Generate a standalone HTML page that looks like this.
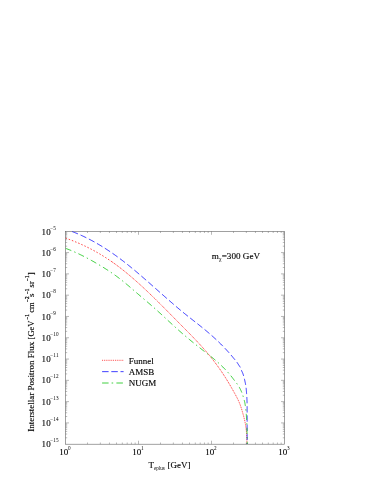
<!DOCTYPE html>
<html><head><meta charset="utf-8"><title>plot</title>
<style>
html,body{margin:0;padding:0;background:#fff;}
body{width:387px;height:501px;overflow:hidden;}
svg{display:block;opacity:0.999;}
text{font-family:"Liberation Serif",serif;fill:#000;stroke:#000;stroke-width:0.12px;} .s{stroke:none;}
</style></head>
<body>
<svg width="387" height="501" viewBox="0 0 387 501">
<rect width="387" height="501" fill="#fff"/>
<defs><filter id="b" x="0" y="0" width="387" height="501" filterUnits="userSpaceOnUse"><feGaussianBlur stdDeviation="0.4"/></filter><clipPath id="c"><rect x="65.5" y="231.3" width="219.0" height="212.89999999999998"/></clipPath></defs>
<g filter="url(#b)">
<g fill="none" stroke="#000" stroke-width="0.6" opacity="0.62">
<rect x="65.5" y="231.3" width="219.0" height="212.89999999999998"/>
<path d="M87.48,444.2 v-1.7 M87.48,231.3 v1.7 M100.33,444.2 v-1.7 M100.33,231.3 v1.7 M109.45,444.2 v-1.7 M109.45,231.3 v1.7 M116.52,444.2 v-1.7 M116.52,231.3 v1.7 M122.31,444.2 v-1.7 M122.31,231.3 v1.7 M127.19,444.2 v-1.7 M127.19,231.3 v1.7 M131.43,444.2 v-1.7 M131.43,231.3 v1.7 M135.16,444.2 v-1.7 M135.16,231.3 v1.7 M138.50,444.2 v-3.5 M138.50,231.3 v3.5 M160.48,444.2 v-1.7 M160.48,231.3 v1.7 M173.33,444.2 v-1.7 M173.33,231.3 v1.7 M182.45,444.2 v-1.7 M182.45,231.3 v1.7 M189.52,444.2 v-1.7 M189.52,231.3 v1.7 M195.31,444.2 v-1.7 M195.31,231.3 v1.7 M200.19,444.2 v-1.7 M200.19,231.3 v1.7 M204.43,444.2 v-1.7 M204.43,231.3 v1.7 M208.16,444.2 v-1.7 M208.16,231.3 v1.7 M211.50,444.2 v-3.5 M211.50,231.3 v3.5 M233.48,444.2 v-1.7 M233.48,231.3 v1.7 M246.33,444.2 v-1.7 M246.33,231.3 v1.7 M255.45,444.2 v-1.7 M255.45,231.3 v1.7 M262.52,444.2 v-1.7 M262.52,231.3 v1.7 M268.31,444.2 v-1.7 M268.31,231.3 v1.7 M273.19,444.2 v-1.7 M273.19,231.3 v1.7 M277.43,444.2 v-1.7 M277.43,231.3 v1.7 M281.16,444.2 v-1.7 M281.16,231.3 v1.7 M65.5,437.79 h1.7 M284.5,437.79 h-1.7 M65.5,434.04 h1.7 M284.5,434.04 h-1.7 M65.5,431.38 h1.7 M284.5,431.38 h-1.7 M65.5,429.32 h1.7 M284.5,429.32 h-1.7 M65.5,427.63 h1.7 M284.5,427.63 h-1.7 M65.5,426.21 h1.7 M284.5,426.21 h-1.7 M65.5,424.97 h1.7 M284.5,424.97 h-1.7 M65.5,423.88 h1.7 M284.5,423.88 h-1.7 M65.5,422.91 h3.5 M284.5,422.91 h-3.5 M65.5,416.50 h1.7 M284.5,416.50 h-1.7 M65.5,412.75 h1.7 M284.5,412.75 h-1.7 M65.5,410.09 h1.7 M284.5,410.09 h-1.7 M65.5,408.03 h1.7 M284.5,408.03 h-1.7 M65.5,406.34 h1.7 M284.5,406.34 h-1.7 M65.5,404.92 h1.7 M284.5,404.92 h-1.7 M65.5,403.68 h1.7 M284.5,403.68 h-1.7 M65.5,402.59 h1.7 M284.5,402.59 h-1.7 M65.5,401.62 h3.5 M284.5,401.62 h-3.5 M65.5,395.21 h1.7 M284.5,395.21 h-1.7 M65.5,391.46 h1.7 M284.5,391.46 h-1.7 M65.5,388.80 h1.7 M284.5,388.80 h-1.7 M65.5,386.74 h1.7 M284.5,386.74 h-1.7 M65.5,385.05 h1.7 M284.5,385.05 h-1.7 M65.5,383.63 h1.7 M284.5,383.63 h-1.7 M65.5,382.39 h1.7 M284.5,382.39 h-1.7 M65.5,381.30 h1.7 M284.5,381.30 h-1.7 M65.5,380.33 h3.5 M284.5,380.33 h-3.5 M65.5,373.92 h1.7 M284.5,373.92 h-1.7 M65.5,370.17 h1.7 M284.5,370.17 h-1.7 M65.5,367.51 h1.7 M284.5,367.51 h-1.7 M65.5,365.45 h1.7 M284.5,365.45 h-1.7 M65.5,363.76 h1.7 M284.5,363.76 h-1.7 M65.5,362.34 h1.7 M284.5,362.34 h-1.7 M65.5,361.10 h1.7 M284.5,361.10 h-1.7 M65.5,360.01 h1.7 M284.5,360.01 h-1.7 M65.5,359.04 h3.5 M284.5,359.04 h-3.5 M65.5,352.63 h1.7 M284.5,352.63 h-1.7 M65.5,348.88 h1.7 M284.5,348.88 h-1.7 M65.5,346.22 h1.7 M284.5,346.22 h-1.7 M65.5,344.16 h1.7 M284.5,344.16 h-1.7 M65.5,342.47 h1.7 M284.5,342.47 h-1.7 M65.5,341.05 h1.7 M284.5,341.05 h-1.7 M65.5,339.81 h1.7 M284.5,339.81 h-1.7 M65.5,338.72 h1.7 M284.5,338.72 h-1.7 M65.5,337.75 h3.5 M284.5,337.75 h-3.5 M65.5,331.34 h1.7 M284.5,331.34 h-1.7 M65.5,327.59 h1.7 M284.5,327.59 h-1.7 M65.5,324.93 h1.7 M284.5,324.93 h-1.7 M65.5,322.87 h1.7 M284.5,322.87 h-1.7 M65.5,321.18 h1.7 M284.5,321.18 h-1.7 M65.5,319.76 h1.7 M284.5,319.76 h-1.7 M65.5,318.52 h1.7 M284.5,318.52 h-1.7 M65.5,317.43 h1.7 M284.5,317.43 h-1.7 M65.5,316.46 h3.5 M284.5,316.46 h-3.5 M65.5,310.05 h1.7 M284.5,310.05 h-1.7 M65.5,306.30 h1.7 M284.5,306.30 h-1.7 M65.5,303.64 h1.7 M284.5,303.64 h-1.7 M65.5,301.58 h1.7 M284.5,301.58 h-1.7 M65.5,299.89 h1.7 M284.5,299.89 h-1.7 M65.5,298.47 h1.7 M284.5,298.47 h-1.7 M65.5,297.23 h1.7 M284.5,297.23 h-1.7 M65.5,296.14 h1.7 M284.5,296.14 h-1.7 M65.5,295.17 h3.5 M284.5,295.17 h-3.5 M65.5,288.76 h1.7 M284.5,288.76 h-1.7 M65.5,285.01 h1.7 M284.5,285.01 h-1.7 M65.5,282.35 h1.7 M284.5,282.35 h-1.7 M65.5,280.29 h1.7 M284.5,280.29 h-1.7 M65.5,278.60 h1.7 M284.5,278.60 h-1.7 M65.5,277.18 h1.7 M284.5,277.18 h-1.7 M65.5,275.94 h1.7 M284.5,275.94 h-1.7 M65.5,274.85 h1.7 M284.5,274.85 h-1.7 M65.5,273.88 h3.5 M284.5,273.88 h-3.5 M65.5,267.47 h1.7 M284.5,267.47 h-1.7 M65.5,263.72 h1.7 M284.5,263.72 h-1.7 M65.5,261.06 h1.7 M284.5,261.06 h-1.7 M65.5,259.00 h1.7 M284.5,259.00 h-1.7 M65.5,257.31 h1.7 M284.5,257.31 h-1.7 M65.5,255.89 h1.7 M284.5,255.89 h-1.7 M65.5,254.65 h1.7 M284.5,254.65 h-1.7 M65.5,253.56 h1.7 M284.5,253.56 h-1.7 M65.5,252.59 h3.5 M284.5,252.59 h-3.5 M65.5,246.18 h1.7 M284.5,246.18 h-1.7 M65.5,242.43 h1.7 M284.5,242.43 h-1.7 M65.5,239.77 h1.7 M284.5,239.77 h-1.7 M65.5,237.71 h1.7 M284.5,237.71 h-1.7 M65.5,236.02 h1.7 M284.5,236.02 h-1.7 M65.5,234.60 h1.7 M284.5,234.60 h-1.7 M65.5,233.36 h1.7 M284.5,233.36 h-1.7 M65.5,232.27 h1.7 M284.5,232.27 h-1.7" stroke-width="0.45"/>
</g>
<g fill="none" stroke-width="0.8" clip-path="url(#c)">
<path d="M65.50,238.08 L66.34,238.38 L67.17,238.67 L68.01,238.97 L68.85,239.28 L69.68,239.59 L70.52,239.90 L71.36,240.22 L72.19,240.54 L73.03,240.87 L73.87,241.20 L74.70,241.54 L75.54,241.88 L76.38,242.23 L77.21,242.58 L78.05,242.94 L78.89,243.30 L79.72,243.66 L80.56,244.03 L81.40,244.41 L82.23,244.79 L83.07,245.18 L83.91,245.57 L84.74,245.96 L85.58,246.36 L86.42,246.77 L87.25,247.18 L88.09,247.60 L88.93,248.02 L89.76,248.44 L90.60,248.88 L91.44,249.31 L92.27,249.76 L93.11,250.20 L93.95,250.66 L94.78,251.12 L95.62,251.58 L96.46,252.05 L97.29,252.53 L98.13,253.01 L98.97,253.50 L99.80,253.99 L100.64,254.49 L101.48,254.99 L102.31,255.50 L103.15,256.02 L103.99,256.54 L104.82,257.07 L105.66,257.60 L106.50,258.14 L107.33,258.69 L108.17,259.24 L109.01,259.80 L109.84,260.37 L110.68,260.94 L111.52,261.51 L112.35,262.10" stroke="#ff0000" stroke-dasharray="1.5 1.9"/><path d="M112.35,262.10 L113.19,262.69 L114.03,263.28 L114.86,263.88 L115.70,264.49 L116.54,265.11 L117.37,265.73 L118.21,266.35 L119.05,266.99 L119.88,267.63 L120.72,268.27 L121.56,268.92 L122.39,269.58 L123.23,270.24 L124.07,270.91 L124.90,271.59 L125.74,272.26 L126.58,272.95 L127.41,273.64 L128.25,274.33 L129.09,275.03 L129.92,275.74 L130.76,276.45 L131.60,277.16 L132.43,277.88 L133.27,278.61 L134.11,279.34 L134.94,280.07 L135.78,280.81 L136.62,281.55 L137.45,282.30 L138.29,283.05 L139.13,283.81 L139.96,284.57 L140.80,285.33 L141.64,286.10 L142.47,286.87 L143.31,287.64 L144.15,288.42 L144.98,289.20 L145.82,289.99 L146.66,290.78 L147.49,291.57 L148.33,292.37 L149.17,293.17 L150.01,293.97 L150.84,294.77 L151.68,295.58 L152.52,296.39 L153.35,297.21 L154.19,298.02 L155.03,298.84 L155.86,299.66 L156.70,300.49 L157.54,301.31 L158.37,302.14 L159.21,302.97 L160.05,303.80 L160.88,304.64 L161.72,305.47 L162.56,306.31 L163.39,307.15 L164.23,307.99 L165.07,308.83 L165.90,309.68 L166.74,310.52 L167.58,311.36 L168.41,312.21 L169.25,313.06 L170.09,313.90 L170.92,314.75 L171.76,315.60 L172.60,316.45 L173.43,317.30 L174.27,318.15 L175.11,319.00 L175.94,319.84 L176.78,320.69 L177.62,321.54 L178.45,322.39 L179.29,323.24 L180.13,324.08 L180.96,324.93 L181.80,325.78 L182.64,326.62 L183.47,327.46 L184.31,328.31 L185.15,329.15 L185.98,330.00 L186.82,330.85 L187.66,331.70 L188.49,332.55 L189.33,333.40 L190.17,334.26 L191.00,335.11 L191.84,335.98 L192.68,336.84 L193.51,337.71 L194.35,338.58 L195.19,339.46 L196.02,340.34 L196.86,341.23 L197.70,342.13 L198.53,343.03 L199.37,343.93 L200.21,344.84 L201.04,345.76 L201.88,346.69 L202.72,347.63 L203.55,348.57 L204.39,349.52 L205.23,350.48 L206.06,351.45 L206.90,352.43 L207.74,353.42 L208.57,354.42 L209.41,355.44 L210.25,356.46 L211.08,357.50 L211.92,358.54 L212.76,359.61 L213.59,360.68 L214.43,361.77 L215.27,362.87 L216.10,363.99 L216.94,365.13 L217.78,366.28 L218.61,367.44 L219.45,368.62 L220.29,369.82 L221.12,371.04 L221.96,372.27 L222.80,373.53 L223.63,374.80 L224.47,376.09 L225.31,377.40 L226.14,378.73 L226.98,380.08 L227.82,381.45 L228.65,382.85 L229.49,384.26 L230.33,385.70 L231.16,387.16 L232.00,388.64 L232.21,388.99 L232.41,389.34 L232.61,389.69 L232.82,390.04 L233.02,390.38 L233.22,390.73 L233.41,391.08 L233.61,391.43 L233.80,391.78 L233.99,392.12 L234.18,392.47 L234.37,392.82 L234.56,393.17 L234.75,393.52 L234.94,393.87 L235.13,394.21 L235.32,394.56 L235.51,394.91 L235.70,395.26 L235.89,395.61 L236.08,395.95 L236.26,396.30 L236.45,396.65 L236.63,397.00 L236.82,397.35 L237.00,397.70 L237.18,398.04 L237.35,398.39 L237.53,398.74 L237.70,399.09 L237.87,399.44 L238.04,399.78 L238.21,400.13 L238.37,400.48 L238.53,400.83 L238.69,401.18 L238.84,401.53 L238.99,401.87 L239.14,402.22 L239.29,402.57 L239.43,402.92 L239.57,403.27 L239.70,403.61 L239.83,403.96 L239.97,404.31 L240.09,404.66 L240.22,405.01 L240.35,405.35 L240.47,405.70 L240.60,406.05 L240.72,406.40 L240.84,406.75 L240.96,407.10 L241.07,407.44 L241.19,407.79 L241.30,408.14 L241.41,408.49 L241.52,408.84 L241.63,409.18 L241.74,409.53 L241.85,409.88 L241.95,410.23 L242.06,410.58 L242.16,410.93 L242.26,411.27 L242.36,411.62 L242.46,411.97 L242.56,412.32 L242.66,412.67 L242.76,413.01 L242.85,413.36 L242.95,413.71 L243.04,414.06 L243.14,414.41 L243.23,414.76 L243.32,415.10 L243.42,415.45 L243.51,415.80 L243.60,416.15 L243.69,416.50 L243.79,416.84 L243.88,417.19 L243.97,417.54 L244.06,417.89 L244.14,418.24 L244.23,418.58 L244.32,418.93 L244.40,419.28 L244.48,419.63 L244.57,419.98 L244.65,420.33 L244.72,420.67 L244.80,421.02 L244.88,421.37 L244.95,421.72 L245.02,422.07 L245.09,422.41 L245.16,422.76 L245.23,423.11 L245.29,423.46 L245.35,423.81 L245.41,424.16 L245.47,424.50 L245.52,424.85 L245.58,425.20 L245.63,425.55 L245.68,425.90 L245.74,426.24 L245.79,426.59 L245.84,426.94 L245.89,427.29 L245.94,427.64 L245.99,427.98 L246.04,428.33 L246.09,428.68 L246.13,429.03 L246.18,429.38 L246.22,429.73 L246.26,430.07 L246.30,430.42 L246.34,430.77 L246.38,431.12 L246.41,431.47 L246.45,431.81 L246.48,432.16 L246.50,432.51 L246.53,432.86 L246.56,433.21 L246.58,433.56 L246.60,433.90 L246.61,434.25 L246.63,434.60 L246.65,434.95 L246.66,435.30 L246.68,435.64 L246.69,435.99 L246.71,436.34 L246.72,436.69 L246.74,437.04 L246.75,437.39 L246.76,437.73 L246.78,438.08 L246.79,438.43 L246.80,438.78 L246.81,439.13 L246.83,439.47 L246.84,439.82 L246.85,440.17 L246.85,440.52 L246.86,440.87 L246.87,441.21 L246.88,441.56 L246.88,441.91 L246.89,442.26 L246.89,442.61 L246.90,442.96 L246.90,443.30 L246.90,443.65 L246.90,444.00" stroke="#ff0000" stroke-dasharray="1.1 0.8"/>
<path d="M72.10,231.53 L72.90,231.84 L73.71,232.15 L74.51,232.47 L75.31,232.79 L76.12,233.12 L76.92,233.45 L77.72,233.79 L78.53,234.14 L79.33,234.49 L80.14,234.84 L80.94,235.20 L81.74,235.57 L82.55,235.94 L83.35,236.31 L84.15,236.69 L84.96,237.08 L85.76,237.47 L86.56,237.86 L87.37,238.27 L88.17,238.67 L88.97,239.08 L89.78,239.50 L90.58,239.92 L91.38,240.35 L92.19,240.78 L92.99,241.21 L93.79,241.66 L94.60,242.10 L95.40,242.55 L96.21,243.01 L97.01,243.47 L97.81,243.94 L98.62,244.41 L99.42,244.88 L100.22,245.36 L101.03,245.85 L101.83,246.34 L102.63,246.84 L103.44,247.34 L104.24,247.84 L105.04,248.35 L105.85,248.87 L106.65,249.39 L107.45,249.91 L108.26,250.44 L109.06,250.97 L109.87,251.51 L110.67,252.06 L111.47,252.60 L112.28,253.16 L113.08,253.71 L113.88,254.28 L114.69,254.84 L115.49,255.42 L116.29,255.99 L117.10,256.57 L117.90,257.16 L118.70,257.75 L119.51,258.34 L120.31,258.94 L121.11,259.55 L121.92,260.16 L122.72,260.77 L123.53,261.39 L124.33,262.01 L125.13,262.64 L125.94,263.27 L126.74,263.90 L127.54,264.54 L128.35,265.19 L129.15,265.83 L129.95,266.48 L130.76,267.14 L131.56,267.80 L132.36,268.46 L133.17,269.12 L133.97,269.79 L134.77,270.46 L135.58,271.13 L136.38,271.81 L137.18,272.49 L137.99,273.17 L138.79,273.85 L139.60,274.54 L140.40,275.23 L141.20,275.92 L142.01,276.61 L142.81,277.31 L143.61,278.00 L144.42,278.70 L145.22,279.40 L146.02,280.10 L146.83,280.81 L147.63,281.51 L148.43,282.22 L149.24,282.92 L150.04,283.63 L150.84,284.34 L151.65,285.05 L152.45,285.76 L153.26,286.47 L154.06,287.18 L154.86,287.89 L155.67,288.60 L156.47,289.31 L157.27,290.03 L158.08,290.74 L158.88,291.45 L159.68,292.16 L160.49,292.87 L161.29,293.58 L162.09,294.29 L162.90,295.00 L163.70,295.70 L164.50,296.41 L165.31,297.12 L166.11,297.82 L166.92,298.53 L167.72,299.23 L168.52,299.93 L169.33,300.63 L170.13,301.33 L170.93,302.03 L171.74,302.73 L172.54,303.42 L173.34,304.12 L174.15,304.81 L174.95,305.50 L175.75,306.20 L176.56,306.88 L177.36,307.57 L178.16,308.25 L178.97,308.93 L179.77,309.61 L180.57,310.28 L181.38,310.95 L182.18,311.61 L182.99,312.27 L183.79,312.92 L184.59,313.58 L185.40,314.22 L186.20,314.87 L187.00,315.51 L187.81,316.15 L188.61,316.78 L189.41,317.42 L190.22,318.05 L191.02,318.68 L191.82,319.31 L192.63,319.94 L193.43,320.57 L194.23,321.20 L195.04,321.83 L195.84,322.47 L196.65,323.10 L197.45,323.73 L198.25,324.37 L199.06,325.01 L199.86,325.65 L200.66,326.29 L201.47,326.94 L202.27,327.58 L203.07,328.24 L203.88,328.89 L204.68,329.55 L205.48,330.22 L206.29,330.89 L207.09,331.57 L207.89,332.24 L208.70,332.93 L209.50,333.62 L210.31,334.32 L211.11,335.02 L211.91,335.73 L212.72,336.45 L213.52,337.17 L214.32,337.90 L215.13,338.63 L215.93,339.38 L216.73,340.13 L217.54,340.89 L218.34,341.66 L219.14,342.43 L219.95,343.22 L220.75,344.01 L221.55,344.81 L222.36,345.63 L223.16,346.45 L223.96,347.28 L224.77,348.12 L225.57,348.97 L226.38,349.84 L227.18,350.71 L227.98,351.59 L228.79,352.49 L229.59,353.39 L230.39,354.31 L231.20,355.24 L232.00,356.19 L232.44,356.74 L232.89,357.29 L233.34,357.84 L233.80,358.40 L234.26,358.95 L234.74,359.50 L235.22,360.05 L235.69,360.60 L236.14,361.16 L236.55,361.71 L236.94,362.26 L237.31,362.81 L237.67,363.37 L238.03,363.92 L238.38,364.47 L238.75,365.02 L239.12,365.58 L239.50,366.13 L239.86,366.68 L240.20,367.23 L240.50,367.78 L240.75,368.34 L240.96,368.89 L241.15,369.44 L241.35,369.99 L241.56,370.55 L241.79,371.10 L242.03,371.65 L242.27,372.20 L242.52,372.75 L242.75,373.31 L242.97,373.86 L243.17,374.41 L243.35,374.96 L243.52,375.52 L243.69,376.07 L243.84,376.62 L243.99,377.17 L244.14,377.73 L244.27,378.28 L244.40,378.83 L244.53,379.38 L244.65,379.93 L244.77,380.49 L244.89,381.04 L245.01,381.59 L245.13,382.14 L245.25,382.70 L245.36,383.25 L245.47,383.80 L245.57,384.35 L245.68,384.91 L245.77,385.46 L245.86,386.01 L245.95,386.56 L246.02,387.11 L246.09,387.67 L246.15,388.22 L246.21,388.77 L246.25,389.32 L246.30,389.88 L246.35,390.43 L246.40,390.98 L246.44,391.53 L246.49,392.09 L246.53,392.64 L246.57,393.19 L246.61,393.74 L246.65,394.29 L246.69,394.85 L246.73,395.40 L246.76,395.95 L246.80,396.50 L246.83,397.06 L246.86,397.61 L246.89,398.16 L246.92,398.71 L246.95,399.26 L246.97,399.82 L246.99,400.37 L247.01,400.92 L247.03,401.47 L247.05,402.03 L247.06,402.58 L247.07,403.13 L247.09,403.68 L247.09,404.24 L247.10,404.79 L247.10,405.34 L247.11,405.89 L247.11,406.44 L247.11,407.00 L247.11,407.55 L247.12,408.10 L247.12,408.65 L247.12,409.21 L247.13,409.76 L247.13,410.31 L247.13,410.86 L247.13,411.42 L247.13,411.97 L247.14,412.52 L247.14,413.07 L247.14,413.62 L247.14,414.18 L247.14,414.73 L247.14,415.28 L247.15,415.83 L247.15,416.39 L247.15,416.94 L247.15,417.49 L247.15,418.04 L247.15,418.59 L247.15,419.15 L247.15,419.70 L247.15,420.25 L247.15,420.80 L247.15,421.36 L247.15,421.91 L247.15,422.46 L247.15,423.01 L247.15,423.57 L247.15,424.12 L247.15,424.67 L247.15,425.22 L247.15,425.77 L247.15,426.33 L247.15,426.88 L247.15,427.43 L247.15,427.98 L247.15,428.54 L247.15,429.09 L247.15,429.64 L247.15,430.19 L247.15,430.75 L247.15,431.30 L247.15,431.85 L247.15,432.40 L247.15,432.95 L247.15,433.51 L247.15,434.06 L247.15,434.61 L247.15,435.16 L247.15,435.72 L247.15,436.27 L247.15,436.82 L247.15,437.37 L247.15,437.92 L247.15,438.48 L247.15,439.03 L247.15,439.58 L247.15,440.13 L247.15,440.69 L247.15,441.24 L247.15,441.79 L247.15,442.34 L247.15,442.90 L247.15,443.45 L247.15,444.00" stroke="#0000ff" stroke-dasharray="6.3 2.9"/>
<path d="M65.50,248.31 L66.34,248.62 L67.17,248.93 L68.01,249.26 L68.85,249.58 L69.68,249.92 L70.52,250.26 L71.36,250.60 L72.19,250.95 L73.03,251.31 L73.87,251.67 L74.70,252.04 L75.54,252.41 L76.38,252.79 L77.21,253.17 L78.05,253.56 L78.89,253.96 L79.72,254.36 L80.56,254.76 L81.40,255.17 L82.23,255.59 L83.07,256.00 L83.91,256.43 L84.74,256.86 L85.58,257.29 L86.42,257.73 L87.25,258.17 L88.09,258.62 L88.93,259.07 L89.76,259.52 L90.60,259.98 L91.44,260.44 L92.27,260.91 L93.11,261.38 L93.95,261.85 L94.78,262.33 L95.62,262.81 L96.46,263.30 L97.29,263.79 L98.13,264.28 L98.97,264.77 L99.80,265.27 L100.64,265.78 L101.48,266.28 L102.31,266.79 L103.15,267.31 L103.99,267.83 L104.82,268.35 L105.66,268.88 L106.50,269.41 L107.33,269.95 L108.17,270.49 L109.01,271.04 L109.84,271.60 L110.68,272.16 L111.52,272.73 L112.35,273.30 L113.19,273.88 L114.03,274.47 L114.86,275.07 L115.70,275.67 L116.54,276.28 L117.37,276.90 L118.21,277.52 L119.05,278.16 L119.88,278.80 L120.72,279.45 L121.56,280.11 L122.39,280.78 L123.23,281.45 L124.07,282.13 L124.90,282.82 L125.74,283.51 L126.58,284.21 L127.41,284.92 L128.25,285.62 L129.09,286.33 L129.92,287.05 L130.76,287.77 L131.60,288.49 L132.43,289.21 L133.27,289.93 L134.11,290.65 L134.94,291.38 L135.78,292.10 L136.62,292.82 L137.45,293.54 L138.29,294.26 L139.13,294.98 L139.96,295.70 L140.80,296.41 L141.64,297.12 L142.47,297.84 L143.31,298.55 L144.15,299.26 L144.98,299.97 L145.82,300.68 L146.66,301.40 L147.49,302.11 L148.33,302.83 L149.17,303.55 L150.01,304.27 L150.84,304.99 L151.68,305.72 L152.52,306.45 L153.35,307.19 L154.19,307.93 L155.03,308.67 L155.86,309.42 L156.70,310.17 L157.54,310.92 L158.37,311.68 L159.21,312.44 L160.05,313.20 L160.88,313.97 L161.72,314.73 L162.56,315.50 L163.39,316.27 L164.23,317.05 L165.07,317.82 L165.90,318.59 L166.74,319.37 L167.58,320.14 L168.41,320.91 L169.25,321.69 L170.09,322.46 L170.92,323.23 L171.76,324.00 L172.60,324.77 L173.43,325.53 L174.27,326.30 L175.11,327.06 L175.94,327.82 L176.78,328.57 L177.62,329.33 L178.45,330.07 L179.29,330.82 L180.13,331.56 L180.96,332.30 L181.80,333.03 L182.64,333.75 L183.47,334.48 L184.31,335.19 L185.15,335.91 L185.98,336.62 L186.82,337.32 L187.66,338.02 L188.49,338.72 L189.33,339.42 L190.17,340.11 L191.00,340.79 L191.84,341.48 L192.68,342.16 L193.51,342.84 L194.35,343.51 L195.19,344.18 L196.02,344.85 L196.86,345.52 L197.70,346.18 L198.53,346.84 L199.37,347.50 L200.21,348.16 L201.04,348.81 L201.88,349.47 L202.72,350.12 L203.55,350.77 L204.39,351.41 L205.23,352.06 L206.06,352.71 L206.90,353.36 L207.74,354.02 L208.57,354.67 L209.41,355.33 L210.25,355.99 L211.08,356.66 L211.92,357.33 L212.76,358.01 L213.59,358.70 L214.43,359.40 L215.27,360.10 L216.10,360.82 L216.94,361.54 L217.78,362.28 L218.61,363.02 L219.45,363.78 L220.29,364.56 L221.12,365.34 L221.96,366.15 L222.80,366.96 L223.63,367.80 L224.47,368.65 L225.31,369.52 L226.14,370.40 L226.98,371.31 L227.82,372.24 L228.65,373.18 L229.49,374.15 L230.33,375.14 L231.16,376.16 L232.00,377.19 L232.31,377.61 L232.62,378.03 L232.93,378.45 L233.24,378.87 L233.55,379.29 L233.86,379.71 L234.17,380.13 L234.50,380.56 L234.82,380.98 L235.15,381.40 L235.48,381.82 L235.81,382.24 L236.14,382.66 L236.47,383.08 L236.79,383.50 L237.11,383.92 L237.42,384.34 L237.73,384.76 L238.02,385.18 L238.31,385.60 L238.58,386.02 L238.83,386.44 L239.08,386.86 L239.31,387.28 L239.53,387.70 L239.76,388.12 L239.97,388.54 L240.19,388.96 L240.40,389.38 L240.60,389.80 L240.80,390.22 L240.99,390.64 L241.18,391.06 L241.36,391.48 L241.54,391.90 L241.72,392.32 L241.89,392.74 L242.05,393.16 L242.21,393.58 L242.36,394.00 L242.51,394.42 L242.65,394.84 L242.78,395.26 L242.92,395.68 L243.05,396.10 L243.18,396.52 L243.31,396.94 L243.44,397.36 L243.56,397.78 L243.69,398.20 L243.81,398.62 L243.92,399.04 L244.04,399.46 L244.15,399.88 L244.26,400.30 L244.36,400.72 L244.47,401.14 L244.56,401.56 L244.66,401.98 L244.75,402.40 L244.83,402.82 L244.92,403.24 L245.00,403.66 L245.07,404.08 L245.14,404.50 L245.20,404.92 L245.27,405.34 L245.33,405.76 L245.39,406.19 L245.44,406.61 L245.50,407.03 L245.56,407.45 L245.61,407.87 L245.66,408.29 L245.71,408.71 L245.76,409.13 L245.81,409.55 L245.86,409.97 L245.91,410.39 L245.95,410.81 L246.00,411.23 L246.04,411.65 L246.08,412.07 L246.12,412.49 L246.16,412.91 L246.20,413.33 L246.23,413.75 L246.27,414.17 L246.30,414.59 L246.33,415.01 L246.37,415.43 L246.40,415.85 L246.42,416.27 L246.45,416.69 L246.48,417.11 L246.50,417.53 L246.53,417.95 L246.55,418.37 L246.57,418.79 L246.59,419.21 L246.61,419.63 L246.64,420.05 L246.66,420.47 L246.68,420.89 L246.69,421.31 L246.71,421.73 L246.73,422.15 L246.75,422.57 L246.77,422.99 L246.78,423.41 L246.80,423.83 L246.82,424.25 L246.83,424.67 L246.85,425.09 L246.86,425.51 L246.88,425.93 L246.89,426.35 L246.90,426.77 L246.92,427.19 L246.93,427.61 L246.94,428.03 L246.96,428.45 L246.97,428.87 L246.98,429.29 L246.99,429.71 L247.00,430.13 L247.02,430.55 L247.03,430.97 L247.04,431.40 L247.05,431.82 L247.06,432.24 L247.07,432.66 L247.08,433.08 L247.09,433.50 L247.11,433.92 L247.12,434.34 L247.13,434.76 L247.14,435.18 L247.15,435.60 L247.16,436.02 L247.17,436.44 L247.18,436.86 L247.18,437.28 L247.19,437.70 L247.20,438.12 L247.21,438.54 L247.22,438.96 L247.23,439.38 L247.24,439.80 L247.24,440.22 L247.25,440.64 L247.26,441.06 L247.27,441.48 L247.27,441.90 L247.28,442.32 L247.28,442.74 L247.29,443.16 L247.29,443.58 L247.30,444.00" stroke="#00c000" stroke-dasharray="6.2 3.2 1.4 3.2"/>
</g>
<g fill="none" stroke-width="0.75">
<path d="M102.1,360.3 H123.6" stroke="#ff0000" stroke-dasharray="0.9 0.94"/>
<path d="M102.1,371.65 H123.6" stroke="#0000ff" stroke-dasharray="6.5 2.7"/>
<path d="M102.1,383.0 H123.6" stroke="#00c000" stroke-dasharray="6.5 3 1.6 3.2"/>
</g>
<g>
<text x="128.8" y="363.8" font-size="9.0">Funnel</text>
<text x="128.8" y="374.95" font-size="9.0">AMSB</text>
<text x="128.8" y="386.35" font-size="9.0">NUGM</text>
<text x="211.8" y="258.8" font-size="9.15">m<tspan class="s" font-size="5.6" dy="2.6">χ</tspan><tspan dy="-2.6" dx="0.3">=300 GeV</tspan></text>
<text x="148.6" y="467.6" font-size="9.0">T<tspan class="s" font-size="5.2" dy="2.5" x="153.9">eplus</tspan><tspan dy="-2.5" x="167.4">[GeV]</tspan></text>
<g transform="translate(34.4,431.8) rotate(-90)"><text x="0.00" y="0" font-size="9.0">Interstellar Positron Flux</text><text x="92.40" y="0" font-size="9.0" textLength="18.9" lengthAdjust="spacingAndGlyphs">[GeV</text><text style="stroke-width:0.25px" x="112.20" y="-5.3" font-size="5.2">−1</text><text x="119.00" y="0" font-size="9.0" textLength="10.4" lengthAdjust="spacingAndGlyphs">cm</text><text style="stroke-width:0.25px" x="129.80" y="-5.3" font-size="5.2">−2</text><text x="134.90" y="0" font-size="9.0">s</text><text style="stroke-width:0.25px" x="137.70" y="-5.3" font-size="5.2">−1</text><text x="144.40" y="0" font-size="9.0" textLength="6.1" lengthAdjust="spacingAndGlyphs">sr</text><text style="stroke-width:0.25px" x="150.80" y="-5.3" font-size="5.2">−1</text><text x="156.60" y="0" font-size="9.0">]</text></g>
<text x="59.30" y="454.7" font-size="9.0">10<tspan class="s" font-size="5.2" dy="-5.0" dx="-0.3">0</tspan></text>
<text x="132.30" y="454.7" font-size="9.0">10<tspan class="s" font-size="5.2" dy="-5.0" dx="-0.3">1</tspan></text>
<text x="205.30" y="454.7" font-size="9.0">10<tspan class="s" font-size="5.2" dy="-5.0" dx="-0.3">2</tspan></text>
<text x="278.30" y="454.7" font-size="9.0">10<tspan class="s" font-size="5.2" dy="-5.0" dx="-0.3">3</tspan></text>
<text x="41.5" y="234.80" font-size="9.0" letter-spacing="0.3">10<tspan class="s" font-size="5.2" x="50.2" dy="-5.0" letter-spacing="0.2">−5</tspan></text>
<text x="41.5" y="256.02" font-size="9.0" letter-spacing="0.3">10<tspan class="s" font-size="5.2" x="50.2" dy="-5.0" letter-spacing="0.2">−6</tspan></text>
<text x="41.5" y="277.24" font-size="9.0" letter-spacing="0.3">10<tspan class="s" font-size="5.2" x="50.2" dy="-5.0" letter-spacing="0.2">−7</tspan></text>
<text x="41.5" y="298.46" font-size="9.0" letter-spacing="0.3">10<tspan class="s" font-size="5.2" x="50.2" dy="-5.0" letter-spacing="0.2">−8</tspan></text>
<text x="41.5" y="319.68" font-size="9.0" letter-spacing="0.3">10<tspan class="s" font-size="5.2" x="50.2" dy="-5.0" letter-spacing="0.2">−9</tspan></text>
<text x="41.5" y="340.90" font-size="9.0" letter-spacing="0.3">10<tspan class="s" font-size="5.2" x="50.2" dy="-5.0" letter-spacing="0.2">−10</tspan></text>
<text x="41.5" y="362.12" font-size="9.0" letter-spacing="0.3">10<tspan class="s" font-size="5.2" x="50.2" dy="-5.0" letter-spacing="0.2">−11</tspan></text>
<text x="41.5" y="383.34" font-size="9.0" letter-spacing="0.3">10<tspan class="s" font-size="5.2" x="50.2" dy="-5.0" letter-spacing="0.2">−12</tspan></text>
<text x="41.5" y="404.56" font-size="9.0" letter-spacing="0.3">10<tspan class="s" font-size="5.2" x="50.2" dy="-5.0" letter-spacing="0.2">−13</tspan></text>
<text x="41.5" y="425.78" font-size="9.0" letter-spacing="0.3">10<tspan class="s" font-size="5.2" x="50.2" dy="-5.0" letter-spacing="0.2">−14</tspan></text>
<text x="41.5" y="447.00" font-size="9.0" letter-spacing="0.3">10<tspan class="s" font-size="5.2" x="50.2" dy="-5.0" letter-spacing="0.2">−15</tspan></text>
</g>
</g>
</svg>
</body></html>
